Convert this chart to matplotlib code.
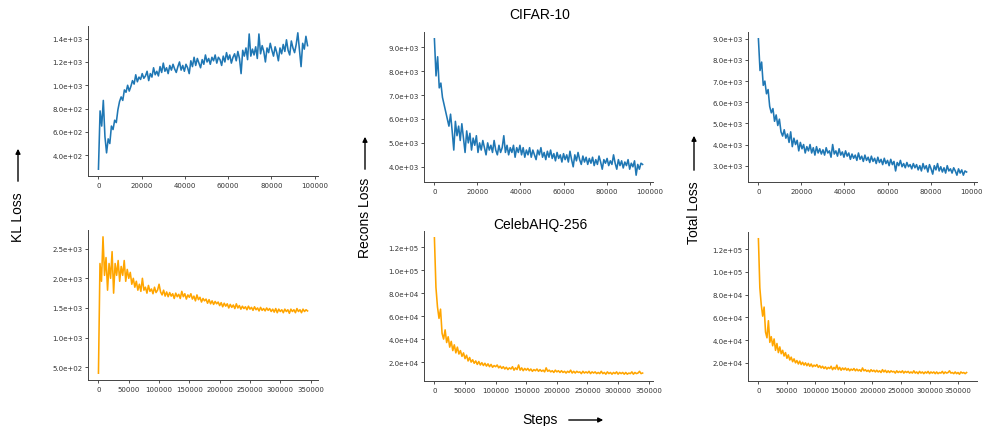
import numpy as np
import matplotlib
matplotlib.use("Agg")
import matplotlib.pyplot as plt
from matplotlib.ticker import FormatStrFormatter

# logging interval of the runs (steps between points)
cifar_every = 750
celeba_every = 2500

kl_cifar = [280, 780, 650, 870, 560, 420, 540, 500, 650, 620, 700, 680, 790, 860, 900, 870,
            960, 940, 1000, 950, 990, 1040, 1010, 1090, 1030, 1070, 1050, 1100, 1060, 1080,
            1120, 1040, 1100, 1070, 1150, 1090, 1120, 1080, 1160, 1110, 1190, 1120, 1150, 1100,
            1170, 1130, 1180, 1140, 1110, 1160, 1200, 1130, 1170, 1120, 1180, 1150, 1100, 1210,
            1160, 1240, 1170, 1230, 1190, 1150, 1220, 1180, 1260, 1200, 1230, 1180, 1240, 1210,
            1260, 1190, 1240, 1220, 1170, 1250, 1200, 1280, 1220, 1260, 1190, 1240, 1270, 1210,
            1290, 1230, 1100, 1300, 1250, 1320, 1220, 1440, 1250, 1310, 1260, 1330, 1230, 1440,
            1270, 1340, 1290, 1200, 1320, 1280, 1360, 1300, 1250, 1330, 1280, 1210, 1320, 1270,
            1350, 1290, 1390, 1300, 1260, 1380, 1320, 1280, 1350, 1450, 1300, 1160, 1360, 1310,
            1420, 1340]

recons_cifar = [9350, 7800, 8600, 7300, 7500, 6900, 6600, 6300, 6000, 5700, 6200, 5500, 4700,
                5900, 5300, 5700, 5100, 5800, 5200, 4600, 5500, 5000, 5400, 4700, 5200, 4900,
                5300, 4600, 5000, 4700, 5100, 4800, 4500, 5000, 4700, 4900, 4600, 5100, 4700,
                4500, 4900, 4600, 4800, 5300, 4600, 4900, 4500, 4800, 4600, 4900, 4400, 4800,
                4600, 4900, 4500, 4800, 4400, 4700, 4500, 4800, 4400, 4700, 4500, 4300, 4700,
                4500, 4800, 4400, 4600, 4300, 4650, 4400, 4700, 4350, 4550, 4250, 4600, 4350,
                4500, 4200, 4550, 4300, 4500, 4200, 4650, 4300, 4000, 4500, 4250, 4600, 4300,
                4100, 4450, 4200, 4400, 4100, 4350, 4150, 4400, 4050, 4300, 4100, 4450, 4200,
                3900, 4300, 4150, 4350, 4050, 4250, 4100, 4500, 4150, 3900, 4300, 4050, 4250,
                3950, 4200, 4050, 4300, 3900, 4150, 4000, 4250, 3650, 4100, 3900, 4150, 4100]

total_cifar = [9000, 7500, 7900, 6800, 7000, 6400, 6600, 5800, 5500, 5700, 5100, 5400, 4900,
               5200, 4600, 4400, 4700, 4300, 4500, 4100, 4600, 3900, 4300, 4000, 4200, 3700,
               4100, 3800, 4000, 3600, 3900, 3700, 4000, 3600, 3850, 3500, 3900, 3600, 3800,
               3550, 3750, 3500, 3850, 3600, 3700, 3400, 4000, 3550, 3700, 3450, 3800, 3500,
               3650, 3400, 3700, 3450, 3600, 3300, 3550, 3350, 3500, 3250, 3600, 3300, 3450,
               3200, 3500, 3250, 3400, 3150, 3450, 3200, 3350, 3100, 3400, 3150, 3300, 3050,
               3350, 3100, 3250, 3000, 3300, 3050, 3200, 2750, 3150, 3000, 3250, 2950, 3100,
               2900, 3150, 2950, 3050, 2850, 3100, 2900, 3050, 2800, 3000, 2750, 3100, 2850,
               3000, 2700, 3050, 2850, 2600, 3000, 2800, 3100, 2750, 2950, 2700, 2900, 2650,
               3000, 2750, 2850, 2650, 2900, 2750, 2550, 2850, 2650, 2800, 2550, 2750, 2700]

kl_celeba = [400, 2250, 1950, 2700, 2050, 2350, 1800, 2250, 2000, 2450, 1750, 2250, 2050, 2300,
             1950, 2200, 2050, 2300, 1950, 2150, 2000, 2100, 1900, 2000, 1850, 1950, 1800, 1900,
             1780, 2000, 1800, 1850, 1750, 1880, 1780, 1820, 1740, 1850, 1760, 1800, 1900, 1770,
             1720, 1800, 1700, 1770, 1690, 1760, 1700, 1740, 1660, 1750, 1690, 1730, 1660, 1780,
             1690, 1740, 1650, 1720, 1680, 1740, 1650, 1700, 1620, 1720, 1640, 1680, 1600, 1660,
             1620, 1650, 1580, 1640, 1570, 1620, 1560, 1610, 1570, 1600, 1540, 1590, 1520, 1580,
             1530, 1570, 1500, 1560, 1510, 1550, 1490, 1570, 1500, 1540, 1480, 1530, 1490, 1520,
             1470, 1530, 1480, 1510, 1460, 1520, 1470, 1500, 1450, 1510, 1460, 1490, 1450, 1500,
             1460, 1490, 1440, 1480, 1430, 1490, 1420, 1480, 1440, 1470, 1420, 1480, 1440, 1470,
             1410, 1480, 1440, 1470, 1420, 1490, 1440, 1470, 1420, 1480, 1440, 1470, 1450]

# CelebAHQ recons / total in thousands
recons_celeba_k = [128, 85, 68, 58, 66, 45, 40, 48, 37, 42, 33, 38, 30, 35, 28, 33, 27, 30, 25,
                   28, 23, 26, 21, 24, 20, 22, 19, 21, 18, 20.5, 17.5, 19.5, 17, 19, 16.5, 18.5,
                   16, 18, 15.5, 17, 16, 17.5, 15, 16.5, 14.5, 16, 14, 15.5, 13.5, 15, 14, 16, 13,
                   15, 13.5, 17.5, 13, 15, 12.5, 14.5, 13, 14.5, 12.5, 14, 12, 13.5, 12.5, 14, 12,
                   13.5, 12, 13, 11.5, 15, 12, 13, 11.5, 12.5, 11, 13, 11.5, 12.5, 11, 12.5, 11,
                   12, 10.5, 12, 11, 13, 10.5, 12, 10.5, 12, 11, 11.5, 10, 12, 10.5, 11.5, 10.5,
                   12, 10, 11.5, 10.5, 11.5, 10, 11, 10, 12, 10, 11, 9.5, 11.5, 10, 11, 9.5, 11,
                   10, 11.5, 9.5, 11, 10, 11, 9.5, 11, 9.5, 10.5, 10, 11.5, 9.5, 11, 10, 10.5, 12,
                   10, 10.5]

total_celeba_k = [129, 86, 71, 61, 69, 47, 42, 57, 38, 43, 35, 41, 31, 37, 29, 34, 28, 31, 26,
                  29, 24, 27, 22.5, 25, 21, 23.5, 20, 22, 19, 21.5, 18.5, 20.5, 18, 20, 17.5,
                  19.5, 17, 19, 16.5, 18, 17, 18.5, 16, 17.5, 15.5, 17, 15, 16.5, 14.5, 16, 15,
                  17, 14, 16, 14.5, 18, 14, 16, 13.5, 15.5, 14, 15.5, 13.5, 15, 13, 14.5, 13.5,
                  15, 13, 14.5, 13, 14, 12.5, 15.5, 13, 14, 12.5, 13.5, 12, 14, 12.5, 13.5, 12,
                  13.5, 12, 13, 11.5, 14, 12, 13.5, 11.5, 13, 11.5, 13, 12, 12.5, 11, 13, 11.5,
                  12.5, 11.5, 13, 11, 12.5, 11.5, 12.5, 11, 12, 11, 13, 11, 12, 10.5, 12.5, 11,
                  12, 10.5, 12, 11, 12.5, 10.5, 12, 11, 12, 10.5, 12, 10.5, 11.5, 11, 12.5, 10.5,
                  12, 11, 11.5, 13, 11, 11.5, 10.5, 12, 10.5, 11.5, 10, 12, 11, 11.5, 10.5, 11.5]

W, H = 982, 427
fig = plt.figure(figsize=(W / 100, H / 100), dpi=100)
big = dict(family="Liberation Sans", fontsize=10)


def rect(x0, y0, x1, y1):
    return [x0 / W, 1 - y1 / H, (x1 - x0) / W, (y1 - y0) / H]


def fpos(x, y):
    return (x / W, 1 - y / H)


def panel(r, vals, every, scale, color):
    ax = fig.add_axes(rect(*r))
    y = np.array(vals, dtype=float) * scale
    x = np.arange(len(y)) * every
    ax.plot(x, y, color=color, lw=1.15)
    ax.spines["top"].set_visible(False)
    ax.spines["right"].set_visible(False)
    for s in ["left", "bottom"]:
        ax.spines[s].set_linewidth(0.7)
        ax.spines[s].set_color("#444444")
    ax.yaxis.set_major_formatter(FormatStrFormatter("%.1e"))
    ax.tick_params(labelsize=5, length=2, width=0.6, pad=2, colors="#333333")
    return ax


blue = "#1f77b4"
orange = "orange"
panel((88, 27, 318, 177), kl_cifar, cifar_every, 1, blue)
panel((88, 231, 318, 381), kl_celeba, celeba_every, 1, orange)
panel((424, 33, 653, 183), recons_cifar, cifar_every, 1, blue)
panel((424, 232, 653, 382), recons_celeba_k, celeba_every, 1000, orange)
panel((748, 33, 977, 183), total_cifar, cifar_every, 1, blue)
panel((748, 233, 977, 382), total_celeba_k, celeba_every, 1000, orange)

fig.text(*fpos(540, 15), "CIFAR-10", ha="center", va="center", **big)
fig.text(*fpos(540, 225), "CelebAHQ-256", ha="center", va="center", **big)

# y labels with upward arrows
for x, yc, y_from, y_to, lab in [(18, 217, 185, 147, "KL Loss"),
                                 (365, 218, 173, 135, "Recons Loss"),
                                 (694, 213, 174, 134, "Total Loss")]:
    fig.text(*fpos(x, yc), lab, rotation=90, ha="center", va="center", **big)
    fig.add_artist(matplotlib.patches.FancyArrowPatch(
        fpos(x, y_from), fpos(x, y_to), transform=fig.transFigure,
        arrowstyle="-|>", mutation_scale=7, lw=1, color="black"))

fig.text(*fpos(540, 420), "Steps", ha="center", va="center", **big)
fig.add_artist(matplotlib.patches.FancyArrowPatch(
    fpos(566, 421), fpos(606, 421), transform=fig.transFigure,
    arrowstyle="-|>", mutation_scale=7, lw=1, color="black"))

fig.savefig("out.png", dpi=100)
